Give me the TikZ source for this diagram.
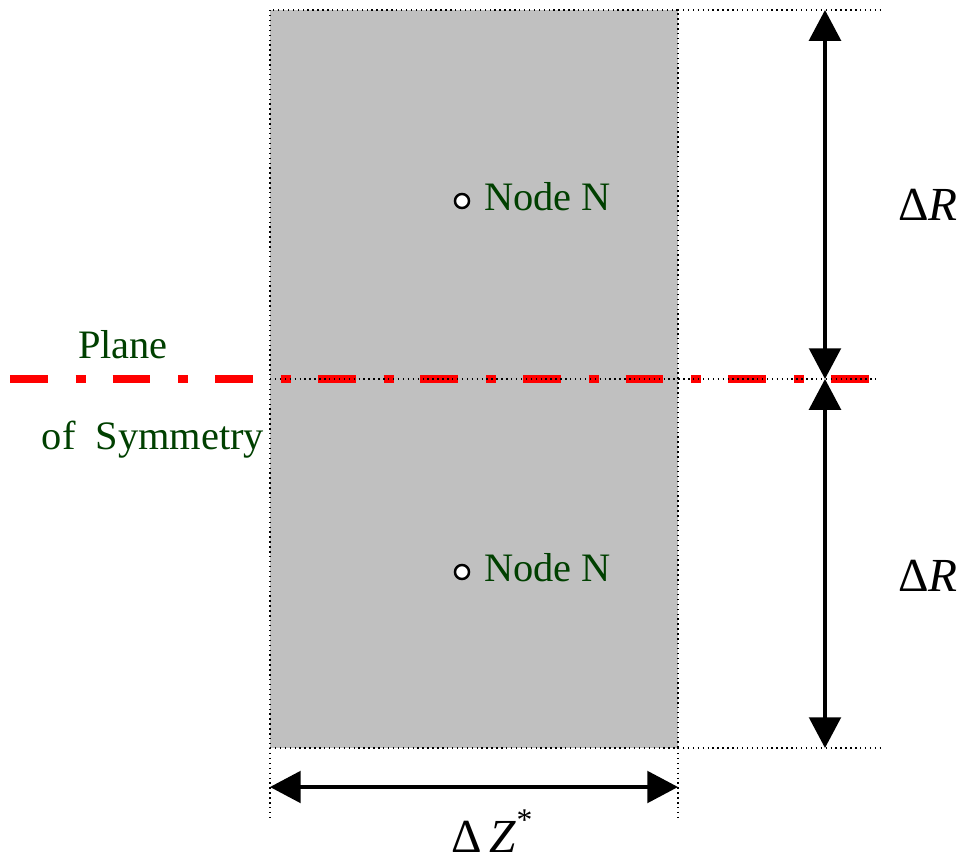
\documentclass[tikz,border=0pt]{standalone}
\usepackage{fontspec}
\setmainfont{Liberation Serif}
\usetikzlibrary{arrows.meta}
\definecolor{labelgreen}{RGB}{0,64,0}
\definecolor{cellgray}{RGB}{192,192,192}
\tikzset{
  guide/.style={line width=0.8pt,dash pattern=on 0.8pt off 2pt},
  dimline/.style={line width=2pt,{Triangle[width=18pt,length=17.5pt]}-{Triangle[width=18pt,length=17.5pt]}},
  symline/.style={red,line width=5.1pt,dash pattern=on 21.5pt off 15.9pt on 5.7pt off 15.3pt},
  nodedot/.style={circle,draw,line width=1.4pt,fill=white,inner sep=0pt,minimum size=8pt},
  nodelabel/.style={labelgreen,font=\fontsize{23}{26}\selectfont,anchor=west},
  dimlabel/.style={font=\fontsize{27}{30}\selectfont}
}
\begin{document}
\begin{tikzpicture}[x=0.02cm,y=-0.02cm]
\useasboundingbox (0,0) rectangle (965,863);

% Cell
\fill[cellgray] (270,10) rectangle (678,748);

% Plane of symmetry
\draw[symline] (10,379) -- (875,379);

% Guide lines
\draw[guide] (270,10) rectangle (678,748);
\draw[guide] (678,10) -- (880,10);
\draw[guide] (678,748) -- (880,748);
\draw[guide] (270,748) -- (270,820);
\draw[guide] (678,748) -- (678,820);
\draw[guide] (270,379) -- (880,379);

% Dimension ends
\coordinate (rtop) at (825,10);
\coordinate (rmid) at (825,379);
\coordinate (rbot) at (825,748);
\coordinate (zleft) at (270,787);
\coordinate (zright) at (678,787);

% Dimensions
\draw[dimline] (rtop) -- (rmid);
\draw[dimline] (rmid) -- (rbot);
\draw[dimline] (zleft) -- (zright);
\node[dimlabel] (drtop) at (928,205) {Δ\textit{R}};
\node[dimlabel] (drbot) at (928,576) {Δ\textit{R}};
\node[dimlabel] (dz) at (492,831) {Δ\,\textit{Z}\raisebox{0.45em}{\fontsize{18}{20}\selectfont *}};

% Nodes
\node[nodedot] (nup) at (462,201) {};
\node[nodelabel] (nuplab) at (478,197) {Node N};
\node[nodedot] (nlow) at (462,572) {};
\node[nodelabel] (nlowlab) at (478,568) {Node N};

% Plane label
\node[labelgreen,font=\fontsize{23}{26}\selectfont] (plane) at (123,345) {Plane};
\node[labelgreen,font=\fontsize{23}{26}\selectfont] (sym) at (153,440) {of\ \ Symmetry};

\end{tikzpicture}
\end{document}
